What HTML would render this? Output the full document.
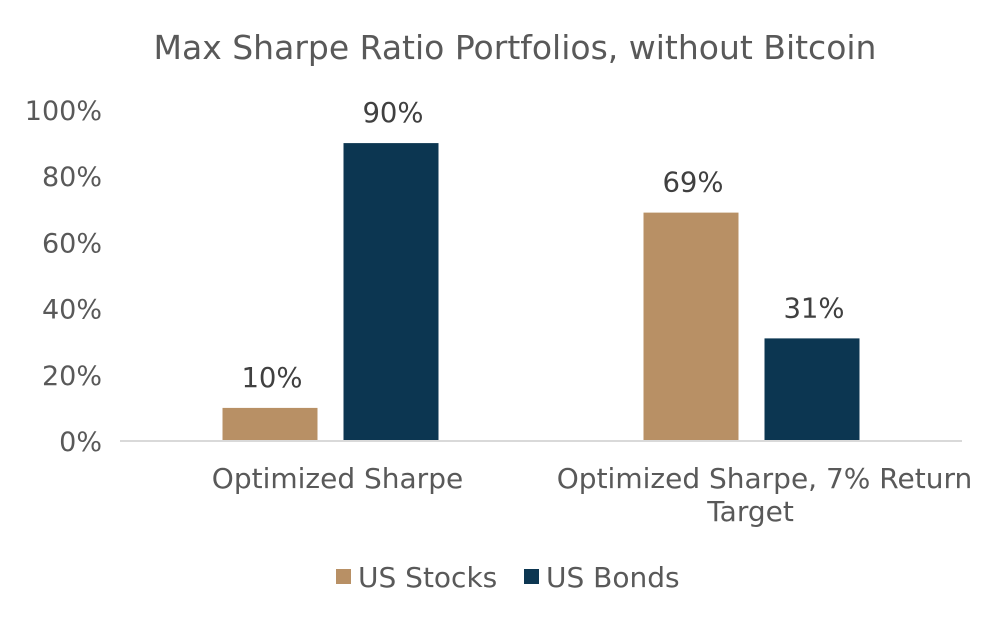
<!DOCTYPE html>
<html><head><meta charset="utf-8">
<style>
body{margin:0;background:#fff;}
svg text{font-family:"DejaVu Sans","Liberation Sans",sans-serif;}
</style></head>
<body>
<svg id="chart" width="1000" height="625" viewBox="0 0 1000 625">
<text x="515" y="59" font-size="33" fill="#595959" text-anchor="middle">Max Sharpe Ratio Portfolios, without Bitcoin</text>
<g id="yaxis"></g>
<g id="bars"></g>
<g id="xaxis"></g>
<g>
<g><rect x="336" y="569" width="15" height="15" fill="#B89065"/><text x="358" y="587" font-size="28" fill="#595959">US Stocks</text></g>
<g><rect x="524" y="569" width="15" height="15" fill="#0C3651"/><text x="546" y="587" font-size="28" fill="#595959">US Bonds</text></g>
</g>
</svg>
<script>
const categories=[["Optimized Sharpe"],["Optimized Sharpe, 7% Return","Target"]];
const stocks=[10,69];
const bonds=[90,31];
const yTicks=[0,20,40,60,80,100];
const ns="http://www.w3.org/2000/svg";
const x0=120,x1=962,yBase=441,yTop=110;
const y=v=>yBase-(v/100)*(yBase-yTop);
const catW=(x1-x0)/categories.length;
const cx=i=>x0+catW*(i+0.5);
const labelShift=[7,13];
const bw=95,gap=26;
function mk(tag,attrs,parent,txt){const e=document.createElementNS(ns,tag);for(const k in attrs)e.setAttribute(k,attrs[k]);if(txt!==undefined)e.textContent=txt;document.getElementById(parent).appendChild(e);return e;}
yTicks.forEach(t=>{
 const e=mk('text',{x:102,y:y(t)+10,'font-size':27,fill:'#595959','text-anchor':'end'},'yaxis',t+'%');
 
 
});
const ax=mk('line',{x1:x0,x2:x1,y1:yBase,y2:yBase,stroke:'#D9D9D9','stroke-width':2},'xaxis');


categories.forEach((c,i)=>{
 c.forEach((line,j)=>{
  const e=mk('text',{x:cx(i)+labelShift[i]-(j>0?14:0),y:488+j*33,'font-size':28,fill:'#595959','text-anchor':'middle'},'xaxis',line);
  
  
 });
 [[stocks,'#B89065',-1,'stocks'],[bonds,'#0C3651',1,'bonds']].forEach(([arr,col,s,nm])=>{
  const bx=s<0?cx(i)-gap/2-bw:cx(i)+gap/2;
  const v=arr[i];
  const r=mk('rect',{x:bx,y:y(v),width:bw,height:yBase-y(v),fill:col},'bars');
  
  
  const l=mk('text',{x:bx+bw/2+2,y:y(v)-21,'font-size':27.5,fill:'#404040','text-anchor':'middle'},'bars',v+'%');
  
  
 });
});
</script>
</body></html>
